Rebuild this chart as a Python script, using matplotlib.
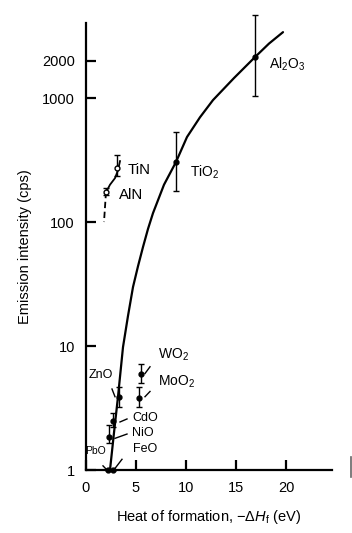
import matplotlib
matplotlib.use("Agg")
import matplotlib.pyplot as plt
from matplotlib.lines import Line2D

plt.rcParams['font.family'] = ['Liberation Sans', 'DejaVu Sans']
plt.rcParams['mathtext.fontset'] = 'custom'
plt.rcParams['mathtext.rm'] = 'Liberation Sans'
plt.rcParams['mathtext.it'] = 'Liberation Sans:italic'
plt.rcParams['mathtext.bf'] = 'Liberation Sans:bold'

# ---- data ----
# main fitted curve (heat of formation eV, intensity cps)
curve_x = [2.4, 2.8, 3.2, 3.7, 4.2, 4.7, 5.2, 5.7, 6.2, 6.7, 7.8, 9.0, 10.1, 11.4, 12.7, 14.8, 16.9, 18.3, 19.7]
curve_y = [1.0, 2.0, 3.9, 9.8, 17.5, 29.9, 44.0, 62.9, 88.0, 118, 200, 305, 485, 700, 963, 1450, 2140, 2750, 3400]

# oxide data points with error bars
oxide_names = ['Al2O3', 'TiO2', 'ZnO', 'WO2', 'MoO2', 'CdO', 'NiO', 'PbO', 'FeO']
oxide_x = [16.9, 9.0, 3.3, 5.5, 5.3, 2.7, 2.3, 2.2, 2.7]
oxide_y = [2140, 305, 3.9, 5.9, 3.8, 2.48, 1.85, 1.0, 1.0]
oxide_lo = [1040, 178, 3.22, 5.03, 3.22, 2.22, 1.65, 1.0, 1.0]
oxide_hi = [4670, 532, 4.67, 7.17, 4.67, 2.88, 2.31, 1.0, 1.0]

# nitrides
nitride_names = ['TiN', 'AlN']
nitride_x = [3.1, 2.0]
nitride_y = [272, 175]
nitride_lo = [235, 165]
nitride_hi = [347, 188]
nitride_curve_x = [2.0, 2.1, 2.4, 2.9, 3.2, 3.4]
nitride_curve_y = [175, 180, 200, 226, 262, 310]
nitride_dash_x = [2.0, 1.8]
nitride_dash_y = [175, 100]

# labels: text, x, y, ha
label_text = ['Al$_2$O$_3$', 'TiO$_2$', 'TiN', 'AlN', 'WO$_2$', 'MoO$_2$', 'ZnO', 'CdO', 'NiO', 'FeO', 'PbO']
label_x = [18.3, 10.4, 4.2, 3.3, 7.2, 7.2, 2.7, 4.6, 4.6, 4.7, 1.0]
label_y = [1860, 253, 262, 165, 8.45, 5.12, 5.83, 2.63, 1.99, 1.48, 1.42]
label_ha = ['left', 'left', 'left', 'left', 'left', 'left', 'right', 'left', 'left', 'left', 'center']
label_size = [10, 10, 10.8, 10.8, 10, 10, 9, 9, 9, 9, 7.5]

# leader lines (x0, y0, x1, y1)
leader_x0 = [2.6, 5.9, 5.9, 3.4, 2.9, 2.9, 1.7]
leader_y0 = [4.5, 6.0, 3.9, 2.44, 1.80, 1.03, 1.08]
leader_x1 = [2.9, 6.4, 6.4, 4.1, 4.1, 3.6, 2.1]
leader_y1 = [3.9, 6.8, 4.3, 2.58, 1.95, 1.22, 1.0]

yticks = [1, 10, 100, 1000, 2000]
ytick_labels = ['1', '10', '100', '1000', '2000']
xticks = [0, 5, 10, 15, 20]

# ---- figure ----
fig = plt.figure(figsize=(3.52, 5.33), dpi=100)
ax = fig.add_axes([86/352, 63/533, 246/352, 447/533])
ax.set_yscale('log')
ax.set_xlim(0, 24.6)
ax.set_ylim(1, 4030)

ax.plot(curve_x, curve_y, color='black', lw=1.6, solid_capstyle='round')

lo = [y - l for y, l in zip(oxide_y, oxide_lo)]
hi = [h - y for y, h in zip(oxide_y, oxide_hi)]
ax.errorbar(oxide_x, oxide_y, yerr=[lo, hi], fmt='o', color='black', ms=3.5,
            capsize=2.5, elinewidth=1.0, capthick=1.0, clip_on=False, zorder=3)

ax.plot(nitride_curve_x, nitride_curve_y, color='black', lw=1.3)
ax.plot(nitride_dash_x, nitride_dash_y, color='black', lw=1.3, ls=(0, (3.5, 2)))
nlo = [y - l for y, l in zip(nitride_y, nitride_lo)]
nhi = [h - y for y, h in zip(nitride_y, nitride_hi)]
ax.errorbar(nitride_x, nitride_y, yerr=[nlo, nhi], fmt='o', mfc='white', mec='black',
            color='black', ms=3.5, capsize=2.5, elinewidth=1.0, capthick=1.0, zorder=3)

for t, x, y, ha, s in zip(label_text, label_x, label_y, label_ha, label_size):
    ax.text(x, y, t, ha=ha, va='center', fontsize=s)

for x0, y0, x1, y1 in zip(leader_x0, leader_y0, leader_x1, leader_y1):
    ax.plot([x0, x1], [y0, y1], color='black', lw=1.0)

for side in ['top', 'right']:
    ax.spines[side].set_visible(False)
for side in ['left', 'bottom']:
    ax.spines[side].set_linewidth(1.6)

ax.set_yticks(yticks)
ax.set_yticklabels(ytick_labels)
ax.minorticks_off()
ax.yaxis.set_minor_locator(matplotlib.ticker.NullLocator())
ax.set_xticks(xticks)
ax.tick_params(axis='both', direction='in', length=7, width=1.6, labelsize=10.5)
ax.tick_params(axis='y', pad=8)
ax.tick_params(axis='x', pad=8)

ax.set_xlabel('Heat of formation, $-\\Delta H_{\\rm f}$ (eV)', fontsize=10.5, labelpad=9)
ax.set_ylabel('Emission intensity (cps)', fontsize=10.5, labelpad=7)

fig.add_artist(Line2D([351/352, 351/352], [1 - 457/533, 1 - 477/533], color='0.4', lw=1.2))

fig.savefig('out.png', dpi=100)
